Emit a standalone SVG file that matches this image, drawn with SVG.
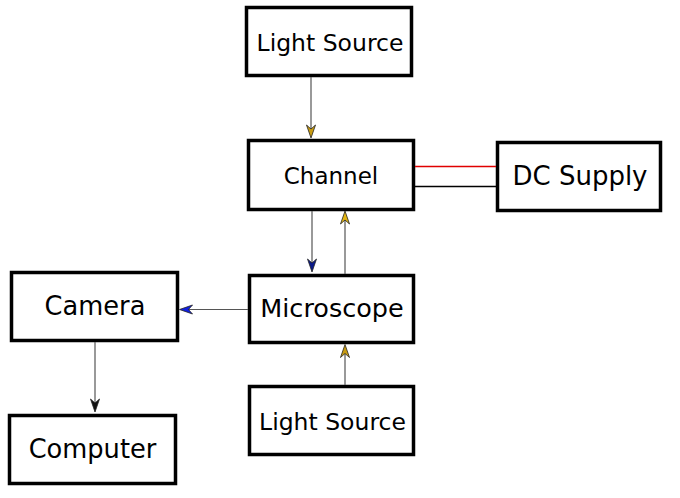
<svg xmlns="http://www.w3.org/2000/svg" width="680" height="498" viewBox="0 0 680 498">
<style>
.box{fill:#fff;stroke:#000;stroke-width:3.5}
.lbl{font-family:"DejaVu Sans",Verdana,sans-serif;fill:#000;text-anchor:middle}
.con{stroke:#555;stroke-width:1.2;fill:none}
.head{stroke:#222;stroke-width:0.8}
</style>
<defs>
<path id="ah" d="M0,0 L-13,-4.5 L-9,0 L-13,4.5 Z"/>
</defs>
<g id="light-source-top"><rect class="box" x="246.5" y="7.5" width="165" height="68"/><text class="lbl" x="330" y="50.5" font-size="23.5">Light Source</text></g>
<g id="channel"><rect class="box" x="248.5" y="140.5" width="165" height="69"/><text class="lbl" x="331" y="183.5" font-size="23">Channel</text></g>
<g id="dc-supply"><rect class="box" x="497.5" y="142.5" width="163" height="68"/><text class="lbl" x="580" y="185" font-size="26">DC Supply</text></g>
<g id="microscope"><rect class="box" x="249.5" y="275.5" width="164" height="67"/><text class="lbl" x="332" y="317" font-size="25.5">Microscope</text></g>
<g id="camera"><rect class="box" x="11.5" y="272.5" width="166" height="68"/><text class="lbl" x="95" y="315" font-size="25.7">Camera</text></g>
<g id="computer"><rect class="box" x="9.5" y="415.5" width="166" height="68"/><text class="lbl" x="92.5" y="457.5" font-size="25.7">Computer</text></g>
<g id="light-source-bottom"><rect class="box" x="249.5" y="386.5" width="164" height="68"/><text class="lbl" x="332.5" y="429.5" font-size="23.5">Light Source</text></g>
<g id="connectors">
<line class="con" x1="311" y1="77" x2="311" y2="130"/>
<use href="#ah" class="head" fill="#c89b10" transform="translate(311,138) rotate(90)"/>
<line class="con" x1="312" y1="211" x2="312" y2="264"/>
<use href="#ah" class="head" fill="#0a1a8a" transform="translate(312,272) rotate(90)"/>
<line class="con" x1="345" y1="274" x2="345" y2="219"/>
<use href="#ah" class="head" fill="#e2b410" transform="translate(345,211) rotate(-90)"/>
<line class="con" x1="248" y1="309.5" x2="187" y2="309.5"/>
<use href="#ah" class="head" fill="#1020e0" transform="translate(179.5,309.5) rotate(180)"/>
<line class="con" x1="345" y1="385" x2="345" y2="352"/>
<use href="#ah" class="head" fill="#c89b10" transform="translate(345,344.5) rotate(-90)"/>
<line class="con" x1="95" y1="342" x2="95" y2="404"/>
<use href="#ah" class="head" fill="#111" transform="translate(95,412) rotate(90)"/>
<line x1="415" y1="166.5" x2="496" y2="166.5" stroke="#e00000" stroke-width="1.5"/>
<line x1="415" y1="186.5" x2="496" y2="186.5" stroke="#000" stroke-width="1.5"/>
</g>
</svg>
